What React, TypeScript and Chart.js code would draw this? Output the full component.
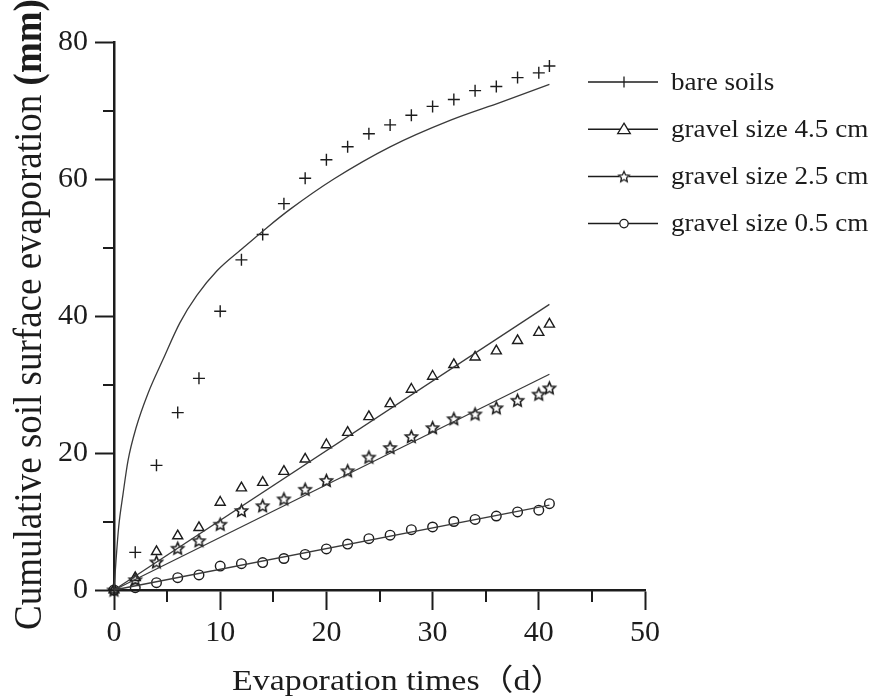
import React, { useEffect, useRef } from 'react';
import { Chart, registerables } from 'chart.js';

Chart.register(...registerables);

// ---------- data ----------
const days = [0, 2, 4, 6, 8, 10, 12, 14, 16, 18, 20, 22, 24, 26, 28, 30, 32, 34, 36, 38, 40, 41];
const bareSoils = [0, 5.5, 18.2, 25.9, 30.9, 40.7, 48.2, 51.9, 56.4, 60.1, 62.8, 64.7, 66.6, 67.9, 69.3, 70.6, 71.6, 72.9, 73.5, 74.8, 75.5, 76.5];
const gravel45 = [0, 1.8, 5.6, 7.9, 9.1, 12.8, 14.9, 15.7, 17.3, 19.1, 21.2, 23.0, 25.3, 27.2, 29.3, 31.2, 32.9, 34.0, 34.9, 36.4, 37.6, 38.8];
const gravel25 = [0, 1.5, 4.1, 6.1, 7.2, 9.6, 11.6, 12.3, 13.3, 14.7, 16.0, 17.4, 19.4, 20.8, 22.4, 23.7, 25.0, 25.7, 26.6, 27.7, 28.6, 29.5];
const gravel05 = [0, 0.34, 1.07, 1.8, 2.2, 3.5, 3.85, 4.0, 4.6, 5.2, 6.0, 6.7, 7.5, 8.0, 8.8, 9.2, 10.0, 10.3, 10.8, 11.4, 11.65, 12.6];

// fitted curve for bare soils
const bareFitDays = [0, 0.19, 0.44, 0.85, 1.32, 2.1, 3.2, 4.6, 6.2, 7.8, 9.7, 12.2, 14.4, 16.6, 20.7, 26, 31.7, 36.4, 41];
const bareFitValues = [0, 4.3, 9.2, 14.0, 18.9, 23.8, 28.7, 33.6, 39.0, 43.0, 46.6, 50.0, 52.9, 55.6, 60.0, 64.7, 68.6, 71.2, 73.8];

// linear fits for the gravel treatments
const linearFitDays = [0, 41];
const fit45 = [0, 41.7];
const fit25 = [0, 31.5];
const fit05 = [0, 12.4];

const legendLabels = ['bare soils', 'gravel size 4.5 cm', 'gravel size 2.5 cm', 'gravel size 0.5 cm'];
const xMinorTicks = [5, 15, 25, 35, 45];
const yMinorTicks = [10, 30, 50, 70];
const xTitle = 'Evaporation times（d）';
const yTitle = 'Cumulative soil surface evaporation ';
const yTitleUnit = '(mm)';

// ---------- styling ----------
const SERIF = "'Liberation Serif', 'Times New Roman', 'Noto Sans CJK SC', serif";
const INK = '#1c1c1c';
const LINE = '#3a3a3a';

function toXY(xs: number[], ys: number[]) {
  return xs.map((x, i) => ({ x, y: ys[i] }));
}

function makeStar(r: number, lw: number): HTMLCanvasElement {
  const c = document.createElement('canvas');
  const s = Math.ceil(r * 2 + 4);
  c.width = s;
  c.height = s;
  const g = c.getContext('2d')!;
  g.beginPath();
  for (let i = 0; i < 10; i++) {
    const rad = i % 2 === 0 ? r : r * 0.47;
    const a = -Math.PI / 2 + (i * Math.PI) / 5;
    const px = s / 2 + rad * Math.cos(a);
    const py = s / 2 + 0.6 + rad * Math.sin(a);
    if (i === 0) g.moveTo(px, py);
    else g.lineTo(px, py);
  }
  g.closePath();
  g.lineWidth = lw;
  g.lineJoin = 'miter';
  g.strokeStyle = INK;
  g.stroke();
  return c;
}

export default function App() {
  const ref = useRef<HTMLCanvasElement | null>(null);

  useEffect(() => {
    const canvas = ref.current;
    if (!canvas) return;
    const star = makeStar(6.3, 1.6);
    const legendStar = makeStar(5.6, 1.3);

    const decor = {
      id: 'decor',
      afterDraw(chart: any) {
        const ctx: CanvasRenderingContext2D = chart.ctx;
        const xs = chart.scales.x;
        const ys = chart.scales.y;
        const { left, bottom } = chart.chartArea;
        ctx.save();
        // minor ticks
        ctx.strokeStyle = INK;
        ctx.lineWidth = 2;
        for (const v of yMinorTicks) {
          const p = Math.round(ys.getPixelForValue(v));
          ctx.beginPath();
          ctx.moveTo(left - 11, p);
          ctx.lineTo(left, p);
          ctx.stroke();
        }
        for (const v of xMinorTicks) {
          const p = Math.round(xs.getPixelForValue(v));
          ctx.beginPath();
          ctx.moveTo(p, bottom);
          ctx.lineTo(p, bottom + 12);
          ctx.stroke();
        }
        // x title
        ctx.fillStyle = INK;
        ctx.textBaseline = 'alphabetic';
        ctx.textAlign = 'left';
        ctx.save();
        ctx.translate(232, 690);
        ctx.scale(1.13, 1);
        ctx.font = `30px ${SERIF}`;
        ctx.fillText(xTitle, 0, 0);
        ctx.restore();
        // y title
        ctx.save();
        ctx.translate(41, 630);
        ctx.rotate(-Math.PI / 2);
        ctx.scale(1, 1.08);
        ctx.font = `37px ${SERIF}`;
        ctx.fillText(yTitle, 0, 0);
        const w = ctx.measureText(yTitle).width;
        ctx.font = `bold 37px ${SERIF}`;
        ctx.fillText(yTitleUnit, w, 0);
        ctx.restore();
        // legend
        const x0 = 588, x1 = 658, mx = 624;
        legendLabels.forEach((label, i) => {
          const y = 82 + i * 47.2;
          ctx.strokeStyle = INK;
          ctx.lineWidth = 1.5;
          ctx.beginPath();
          ctx.moveTo(x0, y);
          ctx.lineTo(x1, y);
          ctx.stroke();
          ctx.lineWidth = 1.3;
          if (i === 0) {
            ctx.beginPath();
            ctx.moveTo(mx, y - 5.5);
            ctx.lineTo(mx, y + 5.5);
            ctx.stroke();
          } else if (i === 1) {
            ctx.beginPath();
            ctx.moveTo(mx, y - 6);
            ctx.lineTo(mx + 6.3, y + 4.5);
            ctx.lineTo(mx - 6.3, y + 4.5);
            ctx.closePath();
            ctx.fillStyle = '#fff';
            ctx.fill();
            ctx.stroke();
          } else if (i === 2) {
            ctx.fillStyle = '#fff';
            ctx.fillRect(mx - 5, y - 5, 10, 10);
            ctx.drawImage(legendStar, mx - legendStar.width / 2, y - legendStar.height / 2);
          } else {
            ctx.beginPath();
            ctx.arc(mx, y, 4.2, 0, Math.PI * 2);
            ctx.fillStyle = '#fff';
            ctx.fill();
            ctx.stroke();
          }
          ctx.save();
          ctx.translate(671, y + 7.5);
          ctx.scale(1.085, 1);
          ctx.fillStyle = INK;
          ctx.font = `25px ${SERIF}`;
          ctx.fillText(label, 0, 0);
          ctx.restore();
        });
        ctx.restore();
      },
    };

    const markerBase = {
      showLine: false,
      borderColor: INK,
      backgroundColor: 'rgba(255,255,255,0)',
      pointBorderWidth: 1.4,
      clip: false as any,
    };
    const lineBase = {
      borderColor: LINE,
      borderWidth: 1.3,
      pointRadius: 0,
      fill: false,
      clip: false as any,
    };

    const chart = new Chart(canvas, {
      type: 'scatter',
      data: {
        datasets: [
          { ...lineBase, label: 'bare soils fit', data: toXY(bareFitDays, bareFitValues), showLine: true, cubicInterpolationMode: 'monotone' } as any,
          { ...lineBase, label: 'gravel 4.5 fit', data: toXY(linearFitDays, fit45), showLine: true } as any,
          { ...lineBase, label: 'gravel 2.5 fit', data: toXY(linearFitDays, fit25), showLine: true } as any,
          { ...lineBase, label: 'gravel 0.5 fit', data: toXY(linearFitDays, fit05), showLine: true } as any,
          { ...markerBase, label: legendLabels[0], data: toXY(days, bareSoils), pointStyle: 'cross', pointRadius: 6 } as any,
          { ...markerBase, label: legendLabels[1], data: toXY(days, gravel45), pointStyle: 'triangle', pointRadius: 5.8 } as any,
          { ...markerBase, label: legendLabels[2], data: toXY(days, gravel25), pointStyle: star, pointRadius: 6 } as any,
          { ...markerBase, label: legendLabels[3], data: toXY(days, gravel05), pointStyle: 'circle', pointRadius: 4.8 } as any,
        ],
      },
      options: {
        responsive: false,
        animation: false,
        devicePixelRatio: 1,
        layout: { padding: { left: 0, top: 42, right: 230, bottom: 0 } },
        plugins: { legend: { display: false }, tooltip: { enabled: false } },
        scales: {
          x: {
            type: 'linear',
            min: 0,
            max: 50,
            afterFit: (s: any) => { s.height = 109; },
            ticks: { stepSize: 10, color: INK, padding: 5, font: { family: SERIF, size: 30 } },
            grid: { drawOnChartArea: false, drawTicks: true, tickLength: 20, tickColor: INK, tickWidth: 2 },
            border: { display: true, color: INK, width: 2.5 },
          },
          y: {
            type: 'linear',
            min: 0,
            max: 80,
            afterFit: (s: any) => { s.width = 114; },
            ticks: { stepSize: 20, color: INK, padding: 7, font: { family: SERIF, size: 30 } },
            grid: { drawOnChartArea: false, drawTicks: true, tickLength: 19, tickColor: INK, tickWidth: 2 },
            border: { display: true, color: INK, width: 2.5 },
          },
        },
      },
      plugins: [decor],
    } as any);

    return () => chart.destroy();
  }, []);

  return (
    <div style={{ position: 'fixed', left: 0, top: 0, width: 875, height: 699, background: '#fff' }}>
      <canvas ref={ref} width={875} height={699} style={{ display: 'block' }} />
    </div>
  );
}
